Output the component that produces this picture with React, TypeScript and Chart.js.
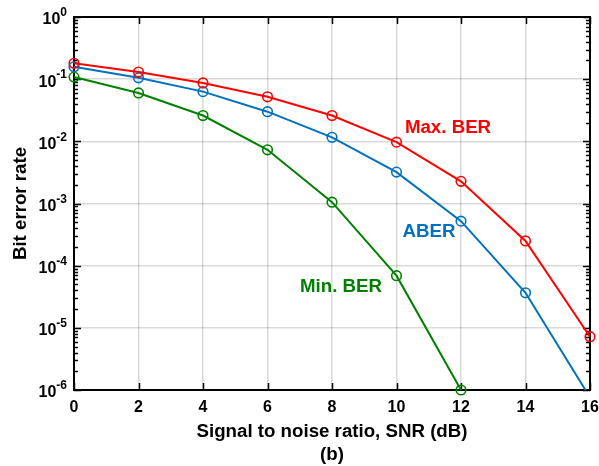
import React, { useEffect, useRef } from "react";
import { Chart, registerables } from "chart.js";

Chart.register(...registerables);

const snr = [0, 2, 4, 6, 8, 10, 12, 14, 16];
const maxBer = [0.18, 0.13, 0.087, 0.052, 0.026, 0.0097, 0.00227, 2.5e-4, 7.2e-6];
const aber = [0.158, 0.105, 0.063, 0.03, 0.0116, 0.0032, 5.2e-4, 3.67e-5, 7.6e-7];
const minBer = [0.108, 0.06, 0.026, 0.0073, 0.00105, 6.9e-5, 1e-6, null, null];
const xTicks = [0, 2, 4, 6, 8, 10, 12, 14, 16];
const yDecades = [-6, -5, -4, -3, -2, -1, 0];

const xTitle = "Signal to noise ratio, SNR (dB)";
const subTitle = "(b)";
const yTitle = "Bit error rate";
const annotations = [
  { text: "Max. BER", x: 448, y: 128, color: "#FF0000" },
  { text: "ABER", x: 429, y: 232, color: "#0072BD" },
  { text: "Min. BER", x: 341, y: 287, color: "#008000" },
];

const FONT = '"Liberation Sans", Arial, sans-serif';

const overlay = {
  id: "overlay",
  beforeDatasetsDraw(chart: any) {
    const ctx = chart.ctx;
    const { left, right, top, bottom } = chart.chartArea;
    const ys = chart.scales.y;
    const xs = chart.scales.x;
    ctx.save();
    ctx.strokeStyle = "#000";
    ctx.lineWidth = 1.5;
    for (const d of yDecades) {
      for (let m = 1; m <= 9; m++) {
        const v = m * Math.pow(10, d);
        if (d === 0 && m > 1) break;
        const py = Math.round(ys.getPixelForValue(v)) + 0.5;
        const len = m === 1 ? 7 : 4;
        ctx.beginPath();
        ctx.moveTo(left, py);
        ctx.lineTo(left + len, py);
        ctx.moveTo(right, py);
        ctx.lineTo(right - len, py);
        ctx.stroke();
      }
    }
    for (const t of xTicks) {
      const px = Math.round(xs.getPixelForValue(t)) + 0.5;
      ctx.beginPath();
      ctx.moveTo(px, bottom);
      ctx.lineTo(px, bottom - 7);
      ctx.moveTo(px, top);
      ctx.lineTo(px, top + 7);
      ctx.stroke();
    }
    ctx.lineWidth = 2;
    ctx.strokeRect(left, top, right - left, bottom - top);
    ctx.restore();
  },
  afterDraw(chart: any) {
    const ctx = chart.ctx;
    const { left, right, top, bottom } = chart.chartArea;
    const ys = chart.scales.y;
    const xs = chart.scales.x;
    ctx.save();
    ctx.fillStyle = "#000";
    for (const d of yDecades) {
      const py = ys.getPixelForValue(Math.pow(10, d));
      const exp = String(d);
      ctx.font = `bold 12px ${FONT}`;
      const ew = ctx.measureText(exp).width;
      ctx.textAlign = "right";
      ctx.textBaseline = "middle";
      ctx.fillText(exp, 67, py - 4);
      ctx.font = `bold 16px ${FONT}`;
      ctx.fillText("10", 67 - ew, py + 3);
    }
    ctx.font = `bold 16px ${FONT}`;
    ctx.textAlign = "center";
    ctx.textBaseline = "middle";
    for (const t of xTicks) {
      ctx.fillText(String(t), xs.getPixelForValue(t), 408);
    }
    ctx.font = `bold 18.7px ${FONT}`;
    const cx = (left + right) / 2;
    ctx.fillText(xTitle, cx, 432);
    ctx.fillText(subTitle, cx, 455);
    ctx.save();
    ctx.translate(21, (top + bottom) / 2);
    ctx.rotate(-Math.PI / 2);
    ctx.fillText(yTitle, 0, 0);
    ctx.restore();
    for (const a of annotations) {
      ctx.fillStyle = a.color;
      ctx.fillText(a.text, a.x, a.y);
    }
    ctx.restore();
  },
};

function mkDataset(label: string, data: (number | null)[], color: string, clip: any) {
  return {
    label,
    data,
    borderColor: color,
    backgroundColor: "rgba(0,0,0,0)",
    borderWidth: 2,
    pointRadius: 4.8,
    pointBorderWidth: 1.6,
    pointBorderColor: color,
    pointBackgroundColor: "rgba(0,0,0,0)",
    pointStyle: "circle",
    tension: 0,
    clip,
  };
}

export default function App() {
  const ref = useRef<HTMLCanvasElement>(null);
  useEffect(() => {
    document.body.style.margin = "0";
    const chart = new Chart(ref.current as HTMLCanvasElement, {
      type: "line",
      data: {
        labels: snr,
        datasets: [
          mkDataset("Max. BER", maxBer, "#FF0000", { left: 10, right: 10, top: 10, bottom: 10 }),
          mkDataset("ABER", aber, "#0072BD", { left: 10, right: 10, top: 10, bottom: 0 }),
          mkDataset("Min. BER", minBer, "#008000", { left: 10, right: 10, top: 10, bottom: 10 }),
        ],
      },
      options: {
        animation: false,
        responsive: false,
        maintainAspectRatio: false,
        layout: { padding: { top: 17, right: 9, left: 0, bottom: 0 } },
        plugins: { legend: { display: false }, tooltip: { enabled: false } },
        scales: {
          x: {
            type: "linear",
            min: 0,
            max: 16,
            ticks: { display: false, stepSize: 2 },
            grid: { color: "rgba(0,0,0,0.15)", lineWidth: 1.5, drawTicks: false },
            border: { display: false },
            afterFit: (s: any) => {
              s.height = 76;
            },
          },
          y: {
            type: "logarithmic",
            min: 1e-6,
            max: 1,
            ticks: { display: false },
            grid: { color: "rgba(0,0,0,0.15)", lineWidth: 1.5, drawTicks: false },
            border: { display: false },
            afterBuildTicks: (s: any) => {
              s.ticks = yDecades.map((d) => ({ value: Math.pow(10, d) }));
            },
            afterFit: (s: any) => {
              s.width = 74;
            },
          },
        },
      },
      plugins: [overlay],
    } as any);
    return () => chart.destroy();
  }, []);
  return (
    <div style={{ position: "absolute", left: 0, top: 0, width: 599, height: 466, background: "#fff" }}>
      <canvas ref={ref} width={599} height={466} style={{ width: 599, height: 466 }} />
    </div>
  );
}
